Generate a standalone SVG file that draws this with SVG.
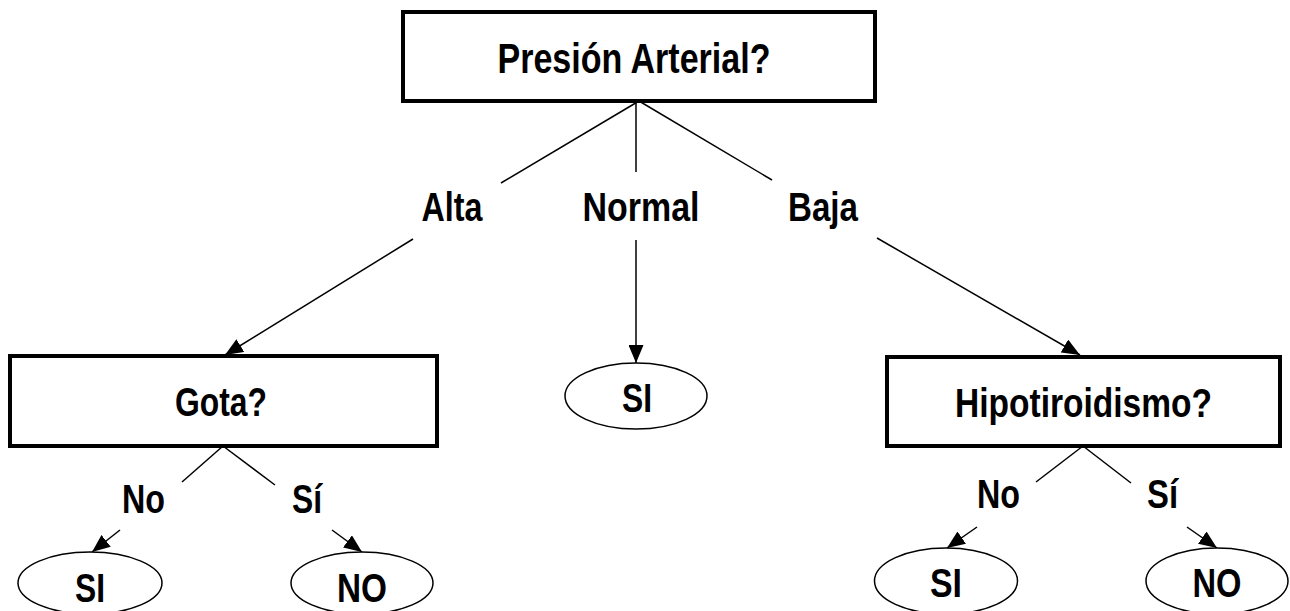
<svg xmlns="http://www.w3.org/2000/svg" width="1290" height="611" viewBox="0 0 1290 611">
<style>
text{font-family:"Liberation Sans",Arial,sans-serif;font-weight:bold;fill:#000;text-anchor:middle}
.box{fill:#fff;stroke:#000;stroke-width:4}
.oval{fill:#fff;stroke:#000;stroke-width:1.5}
.ln{stroke:#000;stroke-width:1.5;fill:none}
.ar{stroke:#000;stroke-width:1.5;fill:none;marker-end:url(#ah)}
.t1{font-size:42px}
.t2{font-size:40px}
</style>
<defs>
<marker id="ah" viewBox="0 0 10 10" refX="10" refY="5" markerWidth="18" markerHeight="15" markerUnits="userSpaceOnUse" orient="auto" preserveAspectRatio="none">
<path d="M0,0 L10,5 L0,10 z" fill="#000"/>
</marker>
</defs>
<g id="connectors">
<line class="ln" x1="639" y1="101" x2="501" y2="183"/>
<line class="ln" x1="636" y1="101" x2="636" y2="172"/>
<line class="ln" x1="639" y1="101" x2="772" y2="180"/>
<line class="ar" x1="413" y1="239" x2="225" y2="355"/>
<line class="ar" x1="636" y1="240" x2="636" y2="363"/>
<line class="ar" x1="877" y1="238" x2="1080" y2="355"/>
<line class="ln" x1="223" y1="446" x2="182" y2="482"/>
<line class="ln" x1="223" y1="446" x2="275" y2="485"/>
<line class="ar" x1="120" y1="530" x2="92" y2="552"/>
<line class="ar" x1="332" y1="530" x2="362" y2="552"/>
<line class="ln" x1="1083" y1="446" x2="1036" y2="482"/>
<line class="ln" x1="1083" y1="446" x2="1131" y2="483"/>
<line class="ar" x1="977" y1="527" x2="947" y2="548"/>
<line class="ar" x1="1187" y1="527" x2="1217" y2="548"/>
</g>
<g id="labels">
<text class="t2" x="452" y="221" textLength="61" lengthAdjust="spacingAndGlyphs">Alta</text>
<text class="t2" x="641" y="221" textLength="117" lengthAdjust="spacingAndGlyphs">Normal</text>
<text class="t2" x="823" y="221" textLength="70" lengthAdjust="spacingAndGlyphs">Baja</text>
<text class="t2" x="143.5" y="513" textLength="43" lengthAdjust="spacingAndGlyphs">No</text>
<text class="t2" x="307" y="513" textLength="30" lengthAdjust="spacingAndGlyphs">Sí</text>
<text class="t2" x="998.5" y="508" textLength="43" lengthAdjust="spacingAndGlyphs">No</text>
<text class="t2" x="1162.5" y="508" textLength="31" lengthAdjust="spacingAndGlyphs">Sí</text>
</g>
<g id="root">
<rect class="box" x="403" y="12" width="472" height="89"/>
<text class="t1" x="634" y="73" textLength="273" lengthAdjust="spacingAndGlyphs">Presión Arterial?</text>
</g>
<g id="gota">
<rect class="box" x="10" y="356" width="427" height="90"/>
<text class="t2" x="221" y="416" textLength="92" lengthAdjust="spacingAndGlyphs">Gota?</text>
</g>
<g id="hipo">
<rect class="box" x="887" y="357" width="393" height="89"/>
<text class="t2" x="1083.5" y="417" textLength="257" lengthAdjust="spacingAndGlyphs">Hipotiroidismo?</text>
</g>
<g id="normal-si">
<ellipse class="oval" cx="636" cy="396" rx="71" ry="33"/>
<text class="t2" x="637" y="412" textLength="30" lengthAdjust="spacingAndGlyphs">SI</text>
</g>
<g id="gota-si">
<ellipse class="oval" cx="90" cy="583" rx="72" ry="31"/>
<text class="t2" x="90" y="602" textLength="30" lengthAdjust="spacingAndGlyphs">SI</text>
</g>
<g id="gota-no">
<ellipse class="oval" cx="362" cy="583" rx="71" ry="31"/>
<text class="t2" x="362" y="602" textLength="50" lengthAdjust="spacingAndGlyphs">NO</text>
</g>
<g id="hipo-si">
<ellipse class="oval" cx="946" cy="581" rx="71.5" ry="33"/>
<text class="t2" x="946" y="597" textLength="32" lengthAdjust="spacingAndGlyphs">SI</text>
</g>
<g id="hipo-no">
<ellipse class="oval" cx="1217" cy="581" rx="71" ry="33"/>
<text class="t2" x="1217" y="597" textLength="49" lengthAdjust="spacingAndGlyphs">NO</text>
</g>
</svg>
